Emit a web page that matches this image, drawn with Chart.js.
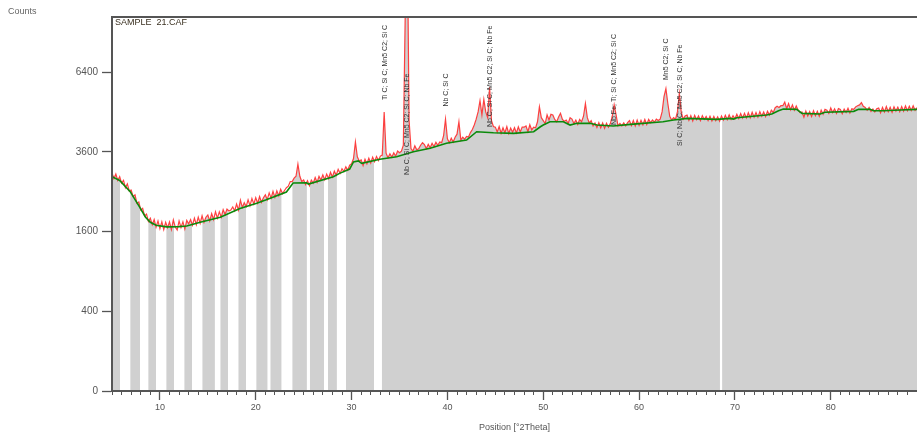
<!DOCTYPE html>
<html>
<head>
<meta charset="utf-8">
<script src="https://cdn.jsdelivr.net/npm/chart.js@4.4.1/dist/chart.umd.min.js"></script>
<style>
  body { margin: 0; background: #fff; }
  #wrap { width: 917px; height: 439px; }
</style>
</head>
<body>
<div id="wrap"><canvas id="xrdCanvas" width="917" height="439"></canvas></div>
<script>
// Scan: start angle, step and measured counts (one row = 2 degrees)
const startAngle = 5.0;
const stepAngle = 0.2;
const obsCounts = [
  2990, 2840, 2960, 2790, 2890, 2720, 2790, 2600, 2700, 2520, // 5
  2540, 2380, 2420, 2220, 2250, 2060, 2100, 1930, 1970, 1810, // 7
  1880, 1740, 1850, 1690, 1820, 1660, 1800, 1640, 1790, 1680, // 9
  1800, 1640, 1840, 1690, 1630, 1820, 1680, 1800, 1650, 1830, // 11
  1760, 1850, 1730, 1880, 1740, 1900, 1770, 1930, 1790, 1900, // 13
  1950, 1820, 1980, 1850, 2020, 1880, 2020, 1900, 2070, 1960, // 15
  2080, 2040, 2060, 2130, 2040, 2200, 2060, 2290, 2120, 2230, // 17
  2140, 2300, 2160, 2330, 2200, 2350, 2220, 2380, 2240, 2350, // 19
  2420, 2300, 2470, 2340, 2510, 2360, 2520, 2400, 2560, 2450, // 21
  2530, 2600, 2640, 2760, 2760, 2850, 2900, 3240, 2900, 2760, // 23
  2800, 2680, 2780, 2650, 2800, 2720, 2870, 2740, 2900, 2800, // 25
  2940, 2810, 2960, 2840, 3010, 2880, 3040, 2930, 3090, 2980, // 27
  3110, 3030, 3160, 3070, 3210, 3250, 3400, 3900, 3450, 3330, // 29
  3360, 3200, 3380, 3250, 3410, 3270, 3440, 3310, 3460, 3340, // 31
  3470, 3500, 4900, 3560, 3420, 3540, 3440, 3570, 3470, 3620, // 33
  3570, 3620, 3800, 9000, 14000, 4600, 3700, 3620, 3780, 3660, // 35
  3690, 3800, 3880, 3820, 3700, 3830, 3720, 3860, 3760, 3890, // 37
  3800, 3900, 3880, 4100, 4650, 4000, 3880, 4020, 3900, 4050, // 39
  4150, 4560, 3960, 4050, 3990, 4080, 4060, 4200, 4300, 4450, // 41
  4650, 4900, 5300, 4800, 5350, 4900, 4700, 5800, 4600, 4400, // 43
  4380, 4220, 4400, 4180, 4360, 4200, 4400, 4170, 4350, 4210, // 45
  4360, 4190, 4390, 4220, 4380, 4380, 4420, 4230, 4460, 4290, // 47
  4380, 4360, 4560, 5080, 4700, 4600, 4500, 4800, 4620, 4820, // 49
  4790, 4640, 4560, 4720, 4850, 4640, 4580, 4620, 4500, 4700, // 51
  4650, 4500, 4620, 4470, 4640, 4560, 4750, 5200, 4700, 4520, // 53
  4600, 4420, 4520, 4370, 4530, 4360, 4520, 4340, 4510, 4380, // 55
  4500, 4750, 5150, 4800, 4420, 4500, 4420, 4520, 4420, 4530, // 57
  4600, 4430, 4600, 4420, 4620, 4440, 4610, 4460, 4640, 4470, // 59
  4640, 4530, 4620, 4550, 4650, 4600, 4650, 4900, 5450, 5750, // 61
  5200, 4750, 4620, 4700, 4650, 4900, 5570, 4900, 4650, 4760, // 63
  4790, 4610, 4770, 4590, 4780, 4630, 4760, 4600, 4770, 4640, // 65
  4740, 4600, 4750, 4590, 4740, 4600, 4730, 4580, 4760, 4620, // 67
  4780, 4630, 4800, 4640, 4770, 4660, 4820, 4670, 4840, 4690, // 69
  4850, 4690, 4870, 4700, 4890, 4720, 4880, 4720, 4910, 4750, // 71
  4900, 4740, 4920, 4790, 4960, 4880, 5050, 5100, 5060, 5120, // 73
  5120, 5250, 5020, 5200, 4980, 5150, 4960, 5110, 4960, 4880, // 75
  4900, 4720, 4930, 4760, 4910, 4740, 4940, 4770, 4920, 4750, // 77
  4960, 4820, 4990, 4960, 4850, 5040, 4880, 5010, 4850, 5020, // 79
  4990, 4840, 5000, 4880, 5030, 4860, 5010, 4990, 5080, 5120, // 81
  5150, 5230, 5100, 5060, 4960, 5060, 4920, 5000, 4900, 5010, // 83
  5040, 4870, 5060, 4900, 5090, 4910, 5060, 4890, 5080, 4930, // 85
  5070, 4910, 5090, 4930, 5110, 4940, 5100, 4950, 5120, 4960, // 87
  5050
];

// Background (green line)
const bgAngles = [5.0, 5.8, 6.9, 7.9, 8.5, 9.0, 9.6, 10.7, 12.0, 12.8, 14.2, 16.3, 18.35, 20.1, 21.1,
  23.2, 23.9, 25.3, 25.5, 28.1, 28.75, 29.8, 30.2, 30.7, 31.05, 32.95, 34.7, 36.45, 38.2, 39.9,
  42.0, 43.05, 44.8, 46.9, 49.0, 49.7, 50.0, 50.7, 52.1, 52.8, 53.5, 54.9, 55.6, 57.3, 59.1,
  62.5, 63.6, 65.0, 68.1, 69.5, 69.85, 70.2, 73.3, 73.85, 74.55, 75.05, 76.45, 77.0, 78.9, 79.4,
  82.4, 82.9, 84.1, 84.45, 85.5, 87.25, 89.0];
const bgCounts = [2890, 2790, 2500, 2120, 1900, 1790, 1730, 1695, 1700, 1712, 1790, 1900, 2095, 2220, 2300,
  2490, 2720, 2727, 2695, 2890, 2980, 3100, 3300, 3330, 3261, 3377, 3453, 3602, 3705, 3859,
  3963, 4229, 4196, 4177, 4229, 4393, 4450, 4561, 4561, 4450, 4507, 4507, 4450, 4417, 4473,
  4561, 4619, 4677, 4643, 4677, 4653, 4698, 4791, 4826, 4941, 5001, 4991, 4850, 4826, 4886,
  4920, 4991, 4991, 4941, 4941, 4966, 4991];

// white stripes in the grey area [from, to] in degrees
const gapRanges = [[5.82, 6.94], [7.91, 8.82], [9.58, 10.70], [11.46, 12.58], [13.34, 14.46],
  [15.71, 16.34], [17.10, 18.22], [18.98, 20.09], [21.20, 21.56], [22.66, 23.85], [25.31, 25.66],
  [27.12, 27.54], [28.44, 29.42], [32.34, 33.17], [68.42, 68.69]];
const gapTopCounts = 6400;

// peak labels
const peakAngles = [33.45, 35.78, 39.85, 44.5, 57.4, 62.8, 64.3];
const peakLabelCounts = [5326, 2934, 5090, 4383, 4450, 6083, 3775];
const peakTexts = [
  'Ti C; Si C; Mn5 C2; Si C',
  'Nb C; Si C; Mn5 C2; Si C; Nb Fe',
  'Nb C; Si C',
  'Nb C; Si C; Mn5 C2; Si C; Nb Fe',
  'Nb Fe; Ti; Si C; Mn5 C2; Si C',
  'Mn5 C2; Si C',
  'Si C; Nb C; Mn5 C2; Si C; Nb Fe'
];

const xTickValues = [10, 20, 30, 40, 50, 60, 70, 80];
const yTickValues = [0, 400, 1600, 3600, 6400];
const xMin = 5, xMax = 89, yMaxCounts = 8800;
const sampleName = 'SAMPLE  21.CAF';
const yTitle = 'Counts';
const xTitle = 'Position [°2Theta]';

const axisColor = '#555';
const fontFamily = '"Liberation Sans", Arial, sans-serif';

// the y axis is square-root: plot sqrt(counts)
const obsPoints = obsCounts.map((c, i) => ({ x: +(startAngle + i * stepAngle).toFixed(2), y: Math.sqrt(c) }));
const bgPoints = bgAngles.map((a, i) => ({ x: a, y: Math.sqrt(bgCounts[i]) }));
const gapPoints = gapRanges.flatMap(([a, b]) => [
  { x: a, y: Math.sqrt(gapTopCounts) }, { x: b, y: Math.sqrt(gapTopCounts) }, { x: b, y: null }
]);

const minorTicks = [];
for (let v = xMin; v <= xMax; v++) minorTicks.push({ value: v });

const textPlugin = {
  id: 'xrdText',
  afterDatasetsDraw(chart) {
    const { ctx, chartArea, scales } = chart;
    ctx.save();
    ctx.beginPath();
    ctx.rect(chartArea.left, chartArea.top, chartArea.right - chartArea.left, chartArea.bottom - chartArea.top);
    ctx.clip();
    ctx.fillStyle = '#333';
    ctx.font = '7px ' + fontFamily;
    ctx.textBaseline = 'middle';
    ctx.textAlign = 'left';
    peakAngles.forEach((a, i) => {
      const px = scales.x.getPixelForValue(a);
      const py = scales.y.getPixelForValue(Math.sqrt(peakLabelCounts[i]));
      ctx.save();
      ctx.translate(px, py);
      ctx.rotate(-Math.PI / 2);
      ctx.fillText(peakTexts[i], 0, 0);
      ctx.restore();
    });
    ctx.font = '9px ' + fontFamily;
    ctx.fillStyle = '#3a3020';
    ctx.fillText(sampleName, chartArea.left + 3, chartArea.top + 6);
    ctx.restore();

    ctx.save();
    ctx.font = '9px ' + fontFamily;
    ctx.fillStyle = '#666';
    ctx.textBaseline = 'middle';
    ctx.fillText(yTitle, 8, 12);
    ctx.restore();
  }
};

new Chart(document.getElementById('xrdCanvas').getContext('2d'), {
  type: 'line',
  data: {
    datasets: [
      { data: bgPoints, borderColor: '#0b8a0b', borderWidth: 1.6, pointRadius: 0, fill: false, order: 1 },
      { data: obsPoints, borderColor: 'rgba(255,45,45,0.9)', borderWidth: 1.2, pointRadius: 0, fill: false, order: 2 },
      { data: gapPoints, borderWidth: 0, pointRadius: 0, backgroundColor: '#ffffff', fill: 'origin', spanGaps: false, order: 3 },
      { data: obsPoints, borderWidth: 0, pointRadius: 0, backgroundColor: '#d0d0d0', fill: 'origin', order: 4 }
    ]
  },
  options: {
    responsive: false,
    animation: false,
    events: [],
    layout: { padding: { top: 17, right: 0, bottom: 0, left: 0 } },
    plugins: { legend: { display: false }, tooltip: { enabled: false } },
    elements: { line: { tension: 0 } },
    scales: {
      x: {
        type: 'linear', min: xMin, max: xMax, position: 'bottom', weight: 1,
        afterBuildTicks: s => { s.ticks = xTickValues.map(v => ({ value: v })); },
        afterFit: s => { s.height = 48; },
        grid: { drawOnChartArea: false, tickLength: 9, tickColor: axisColor, tickWidth: 1.3 },
        border: { color: axisColor, width: 2, z: 1 },
        ticks: { color: '#555', font: { family: fontFamily, size: 9 }, padding: 2, maxRotation: 0, callback: v => String(v) },
        title: { display: true, text: xTitle, color: '#555', font: { family: fontFamily, size: 9 }, padding: { top: 0, bottom: 6 } }
      },
      xMinor: {
        type: 'linear', min: xMin, max: xMax, position: 'bottom', weight: 0,
        afterBuildTicks: s => { s.ticks = minorTicks.slice(); },
        afterFit: s => { s.height = 0; },
        grid: { drawOnChartArea: false, tickLength: 4, tickColor: axisColor, tickWidth: 1 },
        border: { display: false },
        ticks: { display: false }
      },
      xTop: {
        type: 'linear', min: xMin, max: xMax, position: 'top',
        afterFit: s => { s.height = 0; },
        grid: { drawOnChartArea: false, drawTicks: false },
        border: { color: axisColor, width: 2, z: 1 },
        ticks: { display: false }
      },
      y: {
        type: 'linear', min: 0, max: Math.sqrt(yMaxCounts),
        afterBuildTicks: s => { s.ticks = yTickValues.map(v => ({ value: Math.sqrt(v) })); },
        afterFit: s => { s.width = 112; },
        grid: { drawOnChartArea: false, tickLength: 10, tickColor: axisColor, tickWidth: 1.3 },
        border: { color: axisColor, width: 2, z: 1 },
        ticks: { color: '#555', font: { family: fontFamily, size: 10 }, padding: 4, callback: v => String(Math.round(v * v)) }
      }
    }
  },
  plugins: [textPlugin]
});
</script>
</body>
</html>
